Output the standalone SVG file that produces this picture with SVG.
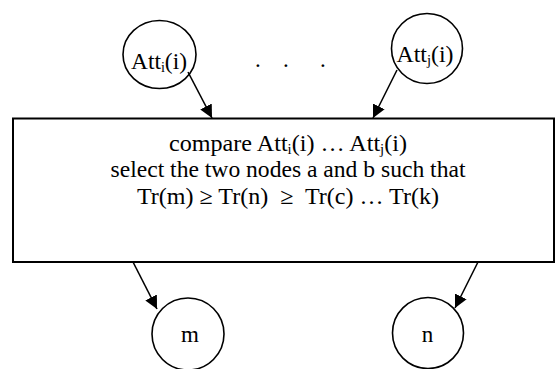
<svg xmlns="http://www.w3.org/2000/svg" width="556" height="369" viewBox="0 0 556 369">
  <style>
    .node { fill: #ffffff; stroke: #000000; stroke-width: 1.6; }
    .box { fill: #ffffff; stroke: #000000; stroke-width: 2; }
    .edge { stroke: #000000; stroke-width: 1.6; fill: none; marker-end: url(#head); }
    .lbl { font-family: "Liberation Serif", "Times New Roman", serif; font-size: 23px; fill: #000000; }
    .sub { font-size: 14px; }
  </style>
  <defs>
    <marker id="head" markerUnits="userSpaceOnUse" markerWidth="14" markerHeight="14" refX="13" refY="6.5" orient="auto">
      <path d="M0,0 L13,6.5 L0,13 Z" fill="#000000"/>
    </marker>
  </defs>

  <!-- central comparison step -->
  <g id="compare">
    <rect class="box" x="13" y="118.5" width="541" height="143.5"/>
    <text class="lbl" x="288" y="151" text-anchor="middle" textLength="238" lengthAdjust="spacingAndGlyphs">compare Att<tspan class="sub" dy="3">i</tspan><tspan dy="-3">(i) … Att</tspan><tspan class="sub" dy="3">j</tspan><tspan dy="-3">(i)</tspan></text>
    <text class="lbl" x="288" y="177" text-anchor="middle" textLength="355" lengthAdjust="spacingAndGlyphs">select the two nodes a and b such that</text>
    <text class="lbl" x="288" y="204" text-anchor="middle" textLength="302" lengthAdjust="spacingAndGlyphs" xml:space="preserve">Tr(m) ≥ Tr(n)  ≥  Tr(c) … Tr(k)</text>
  </g>

  <!-- input attribute nodes -->
  <g id="att-i">
    <ellipse class="node" cx="159.5" cy="54.5" rx="36.5" ry="34"/>
    <text class="lbl" x="159" y="69" text-anchor="middle" textLength="56" lengthAdjust="spacingAndGlyphs">Att<tspan class="sub" dy="3">i</tspan><tspan dy="-3">(i)</tspan></text>
  </g>
  <g id="att-j">
    <ellipse class="node" cx="427" cy="48.5" rx="35.5" ry="35"/>
    <text class="lbl" x="425" y="62" text-anchor="middle" textLength="57" lengthAdjust="spacingAndGlyphs">Att<tspan class="sub" dy="3">j</tspan><tspan dy="-3">(i)</tspan></text>
  </g>

  <!-- ellipsis between the inputs -->
  <g id="ellipsis">
    <text class="lbl" y="66.5"><tspan x="255">.</tspan><tspan x="283">.</tspan><tspan x="320">.</tspan></text>
  </g>

  <!-- selected output nodes -->
  <g id="node-m">
    <circle class="node" cx="188" cy="334" r="36"/>
    <text class="lbl" x="190" y="342" text-anchor="middle">m</text>
  </g>
  <g id="node-n">
    <circle class="node" cx="428" cy="333" r="35.5"/>
    <text class="lbl" x="427.5" y="342" text-anchor="middle">n</text>
  </g>

  <!-- connectors -->
  <g id="edges">
    <line class="edge" x1="188" y1="72" x2="212" y2="118"/>
    <line class="edge" x1="397" y1="70" x2="373" y2="118"/>
    <line class="edge" x1="133" y1="262" x2="157" y2="309"/>
    <line class="edge" x1="478" y1="262" x2="455" y2="308"/>
  </g>
</svg>
